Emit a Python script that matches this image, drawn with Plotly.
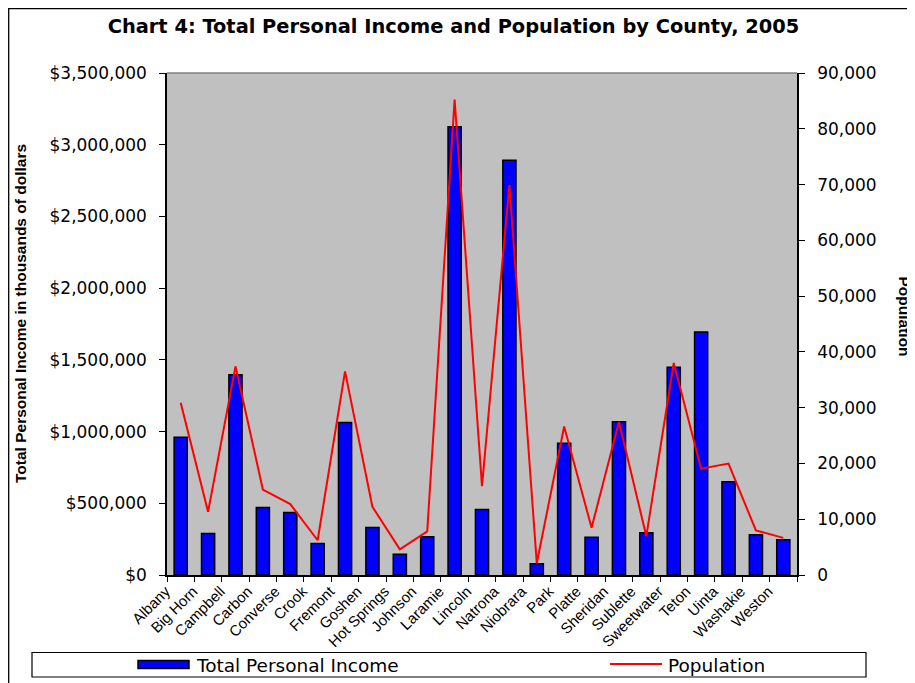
import plotly.graph_objects as go

counties = ["Albany", "Big Horn", "Campbell", "Carbon", "Converse", "Crook", "Fremont",
            "Goshen", "Hot Springs", "Johnson", "Laramie", "Lincoln", "Natrona", "Niobrara",
            "Park", "Platte", "Sheridan", "Sublette", "Sweetwater", "Teton", "Uinta",
            "Washakie", "Weston"]
income = [960000, 290000, 1396000, 471000, 435000, 219000, 1064000,
          332000, 144000, 266000, 3126000, 457000, 2891000, 78000,
          918000, 264000, 1069000, 294000, 1448000, 1695000, 650000,
          280000, 245000]
population = [30870, 11320, 37410, 15320, 12710, 6230, 36500,
              12230, 4600, 7810, 85230, 15920, 69920, 2120,
              26630, 8470, 27420, 6960, 38010, 19070, 19980,
              7990, 6660]

OFF = 8  # page body margin
W, H = 915 - OFF, 683 - OFF
# plot area in reference-picture pixels
L, R, T, B = 167, 797, 73, 575
pw, ph = R - L, B - T

def px(x):
    return (x - L) / pw

def py(y):
    return (B - y) / ph

fig = go.Figure()
fig.add_trace(go.Bar(
    x=counties, y=income, name="Total Personal Income",
    marker=dict(color="#0000FF", line=dict(color="black", width=1.5)),
    yaxis="y", showlegend=False,
))
fig.add_trace(go.Scatter(
    x=counties, y=population, name="Population", mode="lines",
    line=dict(color="#FF0000", width=2), yaxis="y2", showlegend=False,
))

shapes = [
    # outer chart border
    dict(type="rect", xref="paper", yref="paper", x0=px(OFF + 0.7), x1=px(940), y0=py(720), y1=py(OFF + 0.7),
         line=dict(color="black", width=1.3), fillcolor="rgba(0,0,0,0)", layer="below"),
    # plot area top border
    dict(type="line", xref="paper", yref="paper", x0=0, x1=1, y0=1, y1=1,
         line=dict(color="#808080", width=1.5)),
    # legend box
    dict(type="rect", xref="paper", yref="paper", x0=px(32), x1=px(866), y0=py(677), y1=py(652.5),
         line=dict(color="black", width=1.2), fillcolor="white"),
    # legend swatch bar
    dict(type="rect", xref="paper", yref="paper", x0=px(138), x1=px(189), y0=py(668.5), y1=py(660.5),
         line=dict(color="black", width=1.5), fillcolor="#0000FF"),
    # legend swatch line
    dict(type="line", xref="paper", yref="paper", x0=px(610), x1=px(662), y0=py(664), y1=py(664),
         line=dict(color="#FF0000", width=2)),
]

annotations = [
    dict(text="Total Personal Income", xref="paper", yref="paper", x=px(194), y=py(665),
         xanchor="left", yanchor="middle", showarrow=False,
         font=dict(family="DejaVu Sans", size=18.5, color="black")),
    dict(text="Population", xref="paper", yref="paper", x=px(666), y=py(665),
         xanchor="left", yanchor="middle", showarrow=False,
         font=dict(family="DejaVu Sans", size=18.5, color="black")),
    dict(text="<b>Total Personal Income in thousands of dollars</b>", xref="paper", yref="paper",
         x=px(20), y=py(314), xanchor="center", yanchor="middle", showarrow=False, textangle=-90,
         font=dict(family="Liberation Sans", size=15.5, color="black")),
    dict(text="<b>Population</b>", xref="paper", yref="paper", x=px(915), y=py(316),
         xanchor="right", yanchor="middle", showarrow=False, textangle=90,
         font=dict(family="Liberation Sans", size=15.5, color="black")),
]

fig.update_layout(
    width=W, height=H,
    margin=dict(l=L - OFF, r=915 - R, t=T - OFF, b=683 - B, pad=0),
    paper_bgcolor="white", plot_bgcolor="#C0C0C0",
    bargap=0.52,
    title=dict(text="<b>Chart 4: Total Personal Income and Population by County, 2005</b>",
               x=(453.5 - OFF) / W, xref="container", xanchor="center",
               y=1 - (26 - OFF) / H, yref="container", yanchor="middle",
               font=dict(family="DejaVu Sans", size=19.4, color="black")),
    font=dict(family="Liberation Sans", color="black"),
    xaxis=dict(
        type="category", showgrid=False, showline=True, linecolor="black", linewidth=1.5,
        ticks="outside", ticklen=5, tickcolor="black", tickson="boundaries",
        tickangle=-45, ticklabelshift=-15,
        tickfont=dict(family="Liberation Sans", size=15, color="black"),
        zeroline=False,
    ),
    yaxis=dict(
        range=[0, 3500000], dtick=500000, tickprefix="$", tickformat=",",
        showgrid=False, showline=True, linecolor="black", linewidth=1.5,
        ticks="outside", ticklen=6, tickcolor="black", ticklabelstandoff=9,
        tickfont=dict(family="DejaVu Sans", size=17, color="black"),
        zeroline=False,
    ),
    yaxis2=dict(
        range=[0, 90000], dtick=10000, tickformat=",", overlaying="y", side="right",
        showgrid=False, showline=True, linecolor="black", linewidth=1.5,
        ticks="outside", ticklen=6, tickcolor="black", ticklabelstandoff=9,
        tickfont=dict(family="DejaVu Sans", size=17, color="black"),
        zeroline=False,
    ),
    shapes=shapes,
    annotations=annotations,
)

fig.write_html("out.html")
